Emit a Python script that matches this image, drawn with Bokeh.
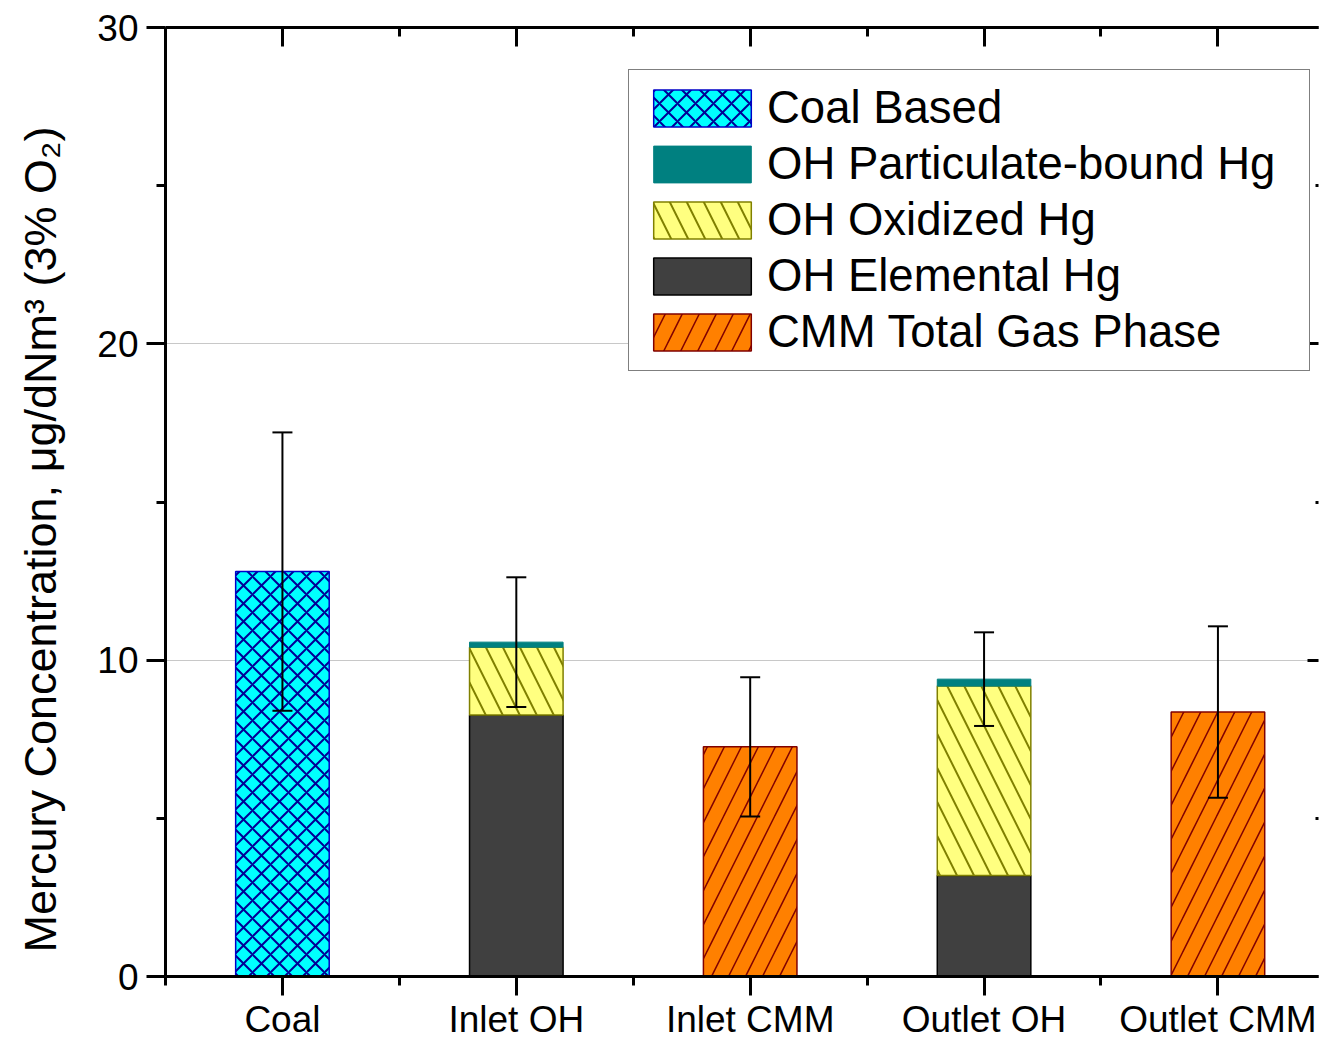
from bokeh.plotting import figure
from bokeh.models import (Range1d, LinearAxis, FixedTicker, Legend, LegendItem,
                          Whisker, TeeHead, ColumnDataSource)
from bokeh.embed import file_html
from bokeh.resources import INLINE

# ---------------- data ----------------
categories = ["Coal", "Inlet OH", "Inlet CMM", "Outlet OH", "Outlet CMM"]

coal_cats = ["Coal"]
coal_based = [12.8]
coal_err = [4.4]

oh_cats = ["Inlet OH", "Outlet OH"]
oh_elemental = [8.27, 3.19]
oh_oxidized = [2.14, 5.99]
oh_particulate = [0.16, 0.22]
oh_err = [2.05, 1.48]

cmm_cats = ["Inlet CMM", "Outlet CMM"]
cmm_total = [7.26, 8.36]
cmm_err = [2.20, 2.71]

y_ticks = [0, 10, 20, 30]
y_minor = [5, 15, 25]

FONT = "Liberation Sans"
pos = {c: i + 1 for i, c in enumerate(categories)}

p = figure(width=1320, height=1042,
           x_range=Range1d(0.5, 5.43), y_range=Range1d(0, 30),
           output_backend="svg", toolbar_location=None,
           min_border_left=165, min_border_top=27, min_border_bottom=56,
           min_border_right=2)
p.outline_line_color = None
p.background_fill_color = "white"
p.border_fill_color = "white"

bw = 0.4

# Coal
coal_x = [pos[c] for c in coal_cats]
r_coal = p.vbar(x=coal_x, top=coal_based, bottom=0, width=bw,
                fill_color="#00FFFF", line_color="#0000C8", line_width=1.5,
                hatch_pattern="diagonal_cross", hatch_color="#000096",
                hatch_scale=18, hatch_weight=2)

# OH stacks
oh_x = [pos[c] for c in oh_cats]
ox_bottom = oh_elemental
ox_top = [a + b for a, b in zip(oh_elemental, oh_oxidized)]
pb_top = [a + b for a, b in zip(ox_top, oh_particulate)]

r_el = p.vbar(x=oh_x, top=oh_elemental, bottom=0, width=bw,
              fill_color="#404040", line_color="#000000", line_width=1.5)
r_ox = p.vbar(x=oh_x, top=ox_top, bottom=ox_bottom, width=bw,
              fill_color="#FFFF80", line_color="#808000", line_width=1.5,
              hatch_pattern="left_diagonal_line", hatch_color="#808000",
              hatch_scale=34, hatch_weight=2)
r_pb = p.vbar(x=oh_x, top=pb_top, bottom=ox_top, width=bw,
              fill_color="#008080", line_color="#008080", line_width=1)

# CMM
cmm_x = [pos[c] for c in cmm_cats]
r_cmm = p.vbar(x=cmm_x, top=cmm_total, bottom=0, width=bw,
               fill_color="#FF8000", line_color="#800000", line_width=1.5,
               hatch_pattern="right_diagonal_line", hatch_color="#800000",
               hatch_scale=34, hatch_weight=1.5)

# error bars
err_x = coal_x + oh_x + cmm_x
err_c = coal_based + pb_top + cmm_total
err_e = coal_err + oh_err + cmm_err
esrc = ColumnDataSource(dict(x=err_x,
                             upper=[c + e for c, e in zip(err_c, err_e)],
                             lower=[c - e for c, e in zip(err_c, err_e)]))
wh = Whisker(base="x", upper="upper", lower="lower", source=esrc,
             dimension="height", line_width=2, line_color="black",
             upper_head=TeeHead(size=20, line_width=2, line_color="black"),
             lower_head=TeeHead(size=20, line_width=2, line_color="black"),
             level="overlay")
p.add_layout(wh)

# ---------------- axes ----------------
xticker = FixedTicker(ticks=[pos[c] for c in categories],
                      minor_ticks=[i + 0.5 for i in range(len(categories) + 1)])
yticker = FixedTicker(ticks=y_ticks, minor_ticks=y_minor)

def style_axis(ax):
    ax.axis_line_width = 3
    ax.axis_line_color = "black"
    ax.major_tick_line_width = 3
    ax.minor_tick_line_width = 3
    ax.major_tick_line_color = "black"
    ax.minor_tick_line_color = "black"
    ax.major_label_text_font = FONT
    ax.major_label_text_color = "black"

xa = p.xaxis[0]
xa.ticker = xticker
xa.major_label_overrides = {pos[c]: c for c in categories}
style_axis(xa)
xa.major_tick_out = 19
xa.major_tick_in = 0
xa.minor_tick_out = 9
xa.minor_tick_in = 0
xa.major_label_text_font_size = "37px"
xa.major_label_standoff = 3

ya = p.yaxis[0]
ya.ticker = yticker
style_axis(ya)
ya.major_tick_out = 19
ya.major_tick_in = 0
ya.minor_tick_out = 9
ya.minor_tick_in = 0
ya.major_label_text_font_size = "37px"
ya.major_label_standoff = 8
ya.axis_label = "Mercury Concentration, \u03bcg/dNm\u00b3 (3% O\u2082)" + "\u00a0" * 6
ya.axis_label_text_font = FONT
ya.axis_label_text_font_size = "45px"
ya.axis_label_text_font_style = "normal"
ya.axis_label_text_color = "black"
ya.axis_label_standoff = 28

top = LinearAxis(ticker=xticker)
style_axis(top)
top.major_tick_in = 19
top.major_tick_out = 0
top.minor_tick_in = 9
top.minor_tick_out = 0
top.major_label_text_font_size = "0px"
top.major_label_standoff = 0
p.add_layout(top, "above")

right = LinearAxis(ticker=yticker)
style_axis(right)
right.axis_line_color = None
right.major_tick_in = 11
right.major_tick_out = 0
right.minor_tick_in = 3
right.minor_tick_out = 0
right.major_label_text_font_size = "0px"
right.major_label_standoff = 0
p.add_layout(right, "right")

p.xgrid.grid_line_color = None
p.ygrid.grid_line_color = "#C8C8C8"
p.ygrid.grid_line_width = 1

# ---------------- legend ----------------
legend = Legend(items=[
    LegendItem(label="Coal Based", renderers=[r_coal]),
    LegendItem(label="OH Particulate-bound Hg", renderers=[r_pb]),
    LegendItem(label="OH Oxidized Hg", renderers=[r_ox]),
    LegendItem(label="OH Elemental Hg", renderers=[r_el]),
    LegendItem(label="CMM Total Gas Phase", renderers=[r_cmm]),
], location=(463, 605))
legend.label_text_font = FONT
legend.label_text_font_size = "45.5px"
legend.label_text_color = "black"
legend.glyph_width = 122
legend.glyph_height = 46
legend.label_standoff = 4
legend.label_height = 50
legend.label_width = 530
legend.spacing = 4
legend.padding = 12
legend.margin = 0
legend.border_line_color = "black"
legend.border_line_width = 1
legend.background_fill_color = "white"
legend.background_fill_alpha = 1
p.add_layout(legend)

open("out.html", "w").write(file_html(p, INLINE))
